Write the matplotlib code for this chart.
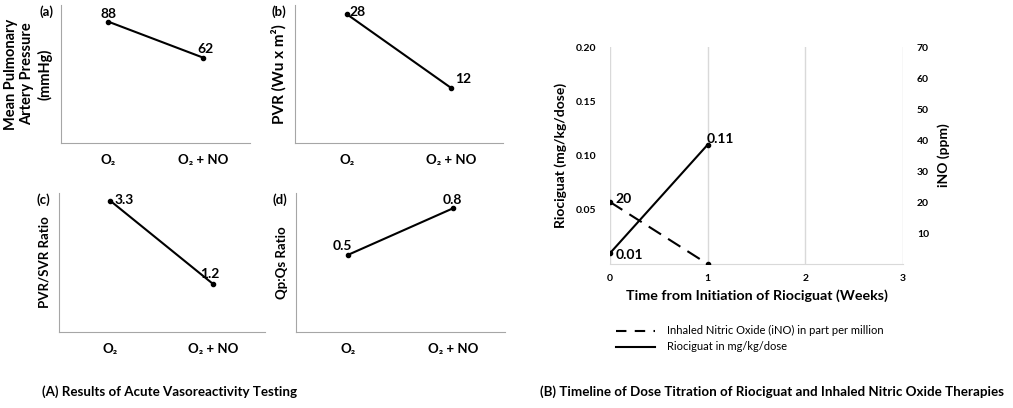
import matplotlib.pyplot as plt
from matplotlib.lines import Line2D

plt.rcParams['font.family'] = ['Lato', 'DejaVu Sans']

# panel A data
conditions = ['O\u2082', 'O\u2082 + NO']
mpap = [88, 62]
pvr = [28, 12]
pvr_svr = [3.3, 1.2]
qp_qs = [0.5, 0.8]

# panel B data
weeks_rio = [0, 1]
riociguat = [0.01, 0.11]
weeks_ino = [0, 1]
ino = [20, 0]
week_ticks = [0, 1, 2, 3]

fig = plt.figure(figsize=(10.13, 4.08), dpi=100)

spine_col = '#a6a6a6'


def small_panel(rect, vals, ymax, ylabel, ylsize, tag, offsets):
    ax = fig.add_axes(rect)
    x = [0, 1]
    ax.plot(x, vals, color='black', lw=1.5, marker='o', ms=3)
    ax.set_xlim(-0.5, 1.5)
    ax.set_ylim(0, ymax)
    ax.set_xticks(x)
    ax.set_xticklabels(conditions, fontsize=9.5, fontweight='bold')
    ax.set_yticks([])
    ax.tick_params(axis='x', length=0, pad=8)
    for s in ['top', 'right']:
        ax.spines[s].set_visible(False)
    for s in ['left', 'bottom']:
        ax.spines[s].set_color(spine_col)
    ax.set_ylabel(ylabel, fontsize=ylsize, fontweight='bold', labelpad=6,
                  linespacing=1.25)
    ax.text(-0.04, 1.0, tag, transform=ax.transAxes, fontsize=9.5,
            fontweight='bold', ha='right', va='top')
    for xi, v, (dx, dy, ha) in zip(x, vals, offsets):
        lbl = f'{v:g}'
        ax.annotate(lbl, (xi, v), xytext=(dx, dy), textcoords='offset points',
                    fontsize=10, fontweight='bold', ha=ha, va='bottom')
    return ax


small_panel([0.0602, 0.6495, 0.1866, 0.338], mpap, 100,
            'Mean Pulmonary\nArtery Pressure\n(mmHg)', 10.5, '(a)',
            [(0, 1, 'center'), (2, 2, 'center')])
small_panel([0.2912, 0.6495, 0.2053, 0.338], pvr, 30,
            'PVR (Wu x m\u00b2)', 11, '(b)',
            [(2, -3, 'left'), (3, 2, 'left')])
small_panel([0.0582, 0.1863, 0.2034, 0.3407], pvr_svr, 3.5,
            'PVR/SVR Ratio', 9.5, '(c)',
            [(3, -4, 'left'), (-3, 3, 'center')])
small_panel([0.2922, 0.1863, 0.2063, 0.3407], qp_qs, 0.9,
            'Qp:Qs Ratio', 9.5, '(d)',
            [(-4, 2, 'center'), (0, 2, 'center')])

fig.text(0.041, 0.03, '(A) Results of Acute Vasoreactivity Testing',
         fontsize=9.6, fontweight='bold', ha='left', va='baseline')

# panel B
ax = fig.add_axes([0.6022, 0.3529, 0.2892, 0.5319])
ax2 = ax.twinx()

ax.plot(weeks_rio, riociguat, color='black', lw=1.5, marker='o', ms=3)
ax2.plot(weeks_ino, ino, color='black', lw=1.5, marker='o', ms=3,
         dashes=(7, 4))

ax.set_xlim(0, 3)
ax.set_ylim(0, 0.2)
ax2.set_ylim(0, 70)
ax.set_xticks(week_ticks)
ax.set_yticks([0.05, 0.10, 0.15, 0.20])
ax.set_yticklabels([f'{t:.2f}' for t in [0.05, 0.10, 0.15, 0.20]])
ax2.set_yticks([10, 20, 30, 40, 50, 60, 70])
ax.grid(axis='x', color='#d9d9d9', lw=1)
ax.set_axisbelow(True)
for a in (ax, ax2):
    for s in ['top', 'right', 'left', 'bottom']:
        a.spines[s].set_visible(False)
    a.tick_params(length=0, labelsize=7.5, pad=10)
    for t in a.get_xticklabels() + a.get_yticklabels():
        t.set_fontweight('bold')
ax.tick_params(axis='x', pad=7)
ax.spines['bottom'].set_visible(True)
ax.spines['bottom'].set_color('#d9d9d9')

ax.set_xlabel('Time from Initiation of Riociguat (Weeks)', fontsize=10.3,
              fontweight='bold', labelpad=5)
ax.set_ylabel('Riociguat (mg/kg/dose)', fontsize=10, fontweight='bold',
              labelpad=6)
ax2.set_ylabel('iNO (ppm)', fontsize=10, fontweight='bold', labelpad=6)

ax.annotate(f'{riociguat[0]:g}', (weeks_rio[0], riociguat[0]),
            xytext=(4, -1), textcoords='offset points', fontsize=10,
            fontweight='bold', ha='left', va='center')
ax.annotate(f'{riociguat[1]:g}', (weeks_rio[1], riociguat[1]),
            xytext=(-1, 4), textcoords='offset points', fontsize=10,
            fontweight='bold', ha='left', va='center')
ax2.annotate(f'{ino[0]:g}', (weeks_ino[0], ino[0]),
             xytext=(4, 2), textcoords='offset points', fontsize=10,
             fontweight='bold', ha='left', va='center')

handles = [Line2D([], [], color='black', lw=1.5, dashes=(5, 4)),
           Line2D([], [], color='black', lw=1.5)]
fig.legend(handles, ['Inhaled Nitric Oxide (iNO) in part per million',
                     'Riociguat in mg/kg/dose'],
           loc='upper left', bbox_to_anchor=(0.598, 0.227), frameon=False,
           fontsize=8, handlelength=3.5, handletextpad=1.1,
           labelspacing=0.45)

fig.text(0.533, 0.03,
         '(B) Timeline of Dose Titration of Riociguat and Inhaled Nitric Oxide Therapies',
         fontsize=9.6, fontweight='bold', ha='left', va='baseline')

fig.savefig('out.png', dpi=100)
